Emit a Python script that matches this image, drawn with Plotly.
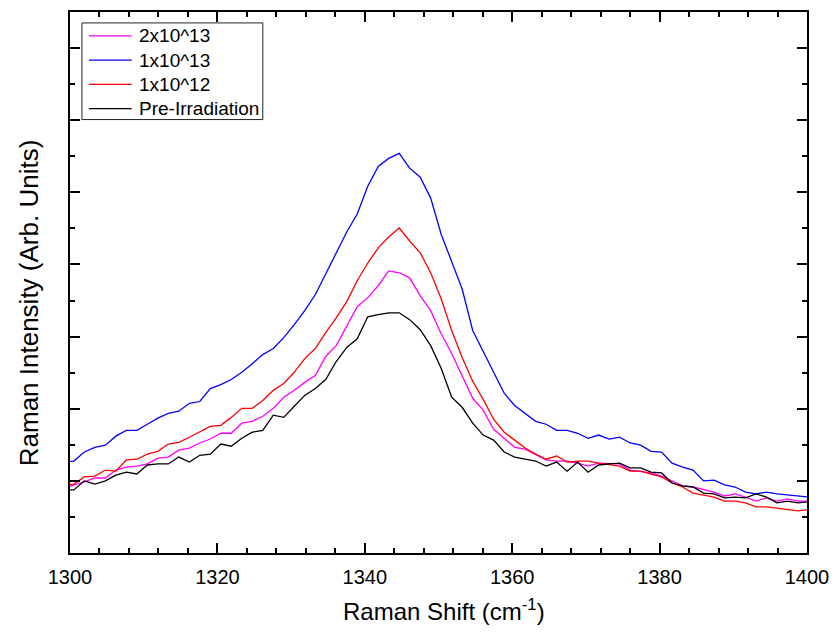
import plotly.graph_objects as go

# Raman shift grid (cm^-1)
shift = [1299.10, 1300.52, 1301.95, 1303.37, 1304.80, 1306.22, 1307.64, 1309.07,
         1310.49, 1311.92, 1313.34, 1314.76, 1316.19, 1317.61, 1319.04, 1320.46,
         1321.88, 1323.31, 1324.73, 1326.16, 1327.58, 1329.00, 1330.43, 1331.85,
         1333.28, 1334.70, 1336.12, 1337.55, 1338.97, 1340.40, 1341.82, 1343.24,
         1344.67, 1346.09, 1347.52, 1348.94, 1350.36, 1351.79, 1353.21, 1354.64,
         1356.06, 1357.48, 1358.91, 1360.33, 1361.76, 1363.18, 1364.60, 1366.03,
         1367.45, 1368.88, 1370.30, 1371.72, 1373.15, 1374.57, 1376.00, 1377.42,
         1378.84, 1380.27, 1381.69, 1383.12, 1384.54, 1385.96, 1387.39, 1388.81,
         1390.24, 1391.66, 1393.08, 1394.51, 1395.93, 1397.36, 1398.78, 1400.20]

fluence_2e13 = [1.78, 1.89, 1.97, 2.08, 2.08, 2.30, 2.38, 2.41, 2.47, 2.63,
                2.66, 2.85, 2.91, 3.05, 3.16, 3.32, 3.32, 3.60, 3.65, 3.79,
                4.01, 4.32, 4.51, 4.73, 4.92, 5.45, 5.75, 6.30, 6.83, 7.08,
                7.41, 7.82, 7.77, 7.63, 7.13, 6.72, 6.08, 5.53, 4.92, 4.29,
                3.96, 3.43, 3.18, 2.93, 2.88, 2.74, 2.58, 2.55, 2.55, 2.49,
                2.41, 2.49, 2.49, 2.47, 2.30, 2.27, 2.22, 2.13, 2.00, 1.86,
                1.83, 1.75, 1.69, 1.58, 1.64, 1.55, 1.44, 1.53, 1.44, 1.50,
                1.44, 1.44]

fluence_1e13 = [2.52, 2.55, 2.80, 2.93, 2.99, 3.24, 3.40, 3.40, 3.57, 3.74,
                3.87, 3.93, 4.15, 4.20, 4.56, 4.67, 4.81, 5.01, 5.25, 5.50,
                5.67, 5.97, 6.33, 6.72, 7.16, 7.74, 8.32, 8.90, 9.40, 10.17,
                10.72, 10.94, 11.08, 10.67, 10.42, 9.84, 8.84, 8.10, 7.32, 6.17,
                5.59, 5.01, 4.43, 4.09, 3.87, 3.65, 3.57, 3.40, 3.40, 3.32,
                3.18, 3.27, 3.16, 3.21, 3.05, 2.99, 2.82, 2.80, 2.49, 2.38,
                2.30, 2.00, 2.02, 1.89, 1.83, 1.69, 1.64, 1.69, 1.64, 1.61,
                1.58, 1.55]

fluence_1e12 = [1.89, 1.91, 2.11, 2.13, 2.30, 2.27, 2.58, 2.60, 2.74, 2.82,
                3.02, 3.07, 3.21, 3.35, 3.51, 3.54, 3.76, 4.01, 4.01, 4.23,
                4.51, 4.70, 5.01, 5.39, 5.67, 6.11, 6.52, 6.97, 7.55, 8.04,
                8.46, 8.76, 9.01, 8.65, 8.32, 7.77, 7.05, 6.17, 5.42, 4.76,
                4.26, 3.71, 3.35, 3.13, 2.91, 2.74, 2.60, 2.69, 2.52, 2.55,
                2.55, 2.49, 2.44, 2.41, 2.27, 2.27, 2.19, 2.11, 1.94, 1.83,
                1.66, 1.61, 1.55, 1.44, 1.44, 1.39, 1.28, 1.28, 1.25, 1.20,
                1.17, 1.20]

pre_irradiation = [1.75, 1.75, 2.00, 1.91, 2.00, 2.16, 2.24, 2.19, 2.44, 2.47,
                   2.47, 2.66, 2.52, 2.71, 2.74, 3.02, 2.96, 3.18, 3.35, 3.40,
                   3.82, 3.76, 4.07, 4.37, 4.56, 4.81, 5.31, 5.70, 5.94, 6.55,
                   6.61, 6.66, 6.66, 6.47, 6.19, 5.75, 5.12, 4.32, 4.04, 3.60,
                   3.27, 3.13, 2.80, 2.66, 2.60, 2.55, 2.41, 2.52, 2.27, 2.52,
                   2.24, 2.44, 2.47, 2.49, 2.36, 2.36, 2.24, 2.22, 1.94, 1.86,
                   1.83, 1.66, 1.64, 1.53, 1.55, 1.53, 1.64, 1.55, 1.39, 1.44,
                   1.39, 1.42]

series_names = ["2x10^13", "1x10^13", "1x10^12", "Pre-Irradiation"]
series_values = [fluence_2e13, fluence_1e13, fluence_1e12, pre_irradiation]
series_colors = ["#FF00FF", "#0000FF", "#FF0000", "#000000"]

FONT = "Arial, 'Liberation Sans', sans-serif"

fig = go.Figure()
for name, vals, color in zip(series_names, series_values, series_colors):
    fig.add_trace(go.Scatter(x=shift, y=vals, name=name, mode="lines",
                             line=dict(color=color, width=1.3),
                             showlegend=False))

axis_common = dict(
    showline=True, linecolor="black", linewidth=2, mirror="allticks",
    ticks="inside", ticklen=10, tickwidth=2, tickcolor="black",
    showgrid=False, zeroline=False,
)

fig.update_xaxes(range=[1300, 1400], dtick=20, tick0=1300,
                 tickfont=dict(family=FONT, size=20, color="black"),
                 minor=dict(dtick=4, ticks="inside", ticklen=5, tickwidth=2,
                            tickcolor="black", showgrid=False),
                 ticklabelstandoff=5,
                 **axis_common)
fig.update_yaxes(range=[0, 15], dtick=2, tick0=0, showticklabels=False,
                 minor=dict(dtick=1, ticks="inside", ticklen=5, tickwidth=2,
                            tickcolor="black", showgrid=False),
                 **axis_common)

# Key box in the upper-left corner: framed box, a short line sample and a label per series
shapes = [dict(type="rect", xref="paper", yref="paper",
               x0=0.0162, x1=0.2616, y0=0.8012, y1=0.9798,
               line=dict(color="#222222", width=1), fillcolor="white",
               layer="above")]
annotations = []
row_top, row_step = 0.9559, 0.0448
for k, (name, color) in enumerate(zip(series_names, series_colors)):
    yk = row_top - k * row_step
    shapes.append(dict(type="line", xref="paper", yref="paper",
                       x0=0.0256, x1=0.0836, y0=yk, y1=yk,
                       line=dict(color=color, width=1.3), layer="above"))
    annotations.append(dict(text=name, xref="paper", yref="paper",
                            x=0.0905, y=yk, xanchor="left", yanchor="middle",
                            showarrow=False,
                            font=dict(family=FONT, size=19, color="black")))

annotations += [
    dict(text="Raman Shift (cm<sup>-1</sup>)", xref="paper", yref="paper",
         x=0.507, y=-0.105, xanchor="center", yanchor="middle",
         showarrow=False, font=dict(family=FONT, size=24, color="black")),
    dict(text="Raman Intensity (Arb. Units)", xref="paper", yref="paper",
         x=-0.056, y=0.463, xanchor="center", yanchor="middle",
         textangle=-90, showarrow=False,
         font=dict(family=FONT, size=26, color="black")),
]

fig.update_layout(
    width=839, height=635,
    margin=dict(l=70, r=27, t=10, b=82),
    paper_bgcolor="white", plot_bgcolor="white",
    font=dict(family=FONT, color="black"),
    showlegend=False,
    shapes=shapes,
    annotations=annotations,
)

fig.write_html("out.html")
